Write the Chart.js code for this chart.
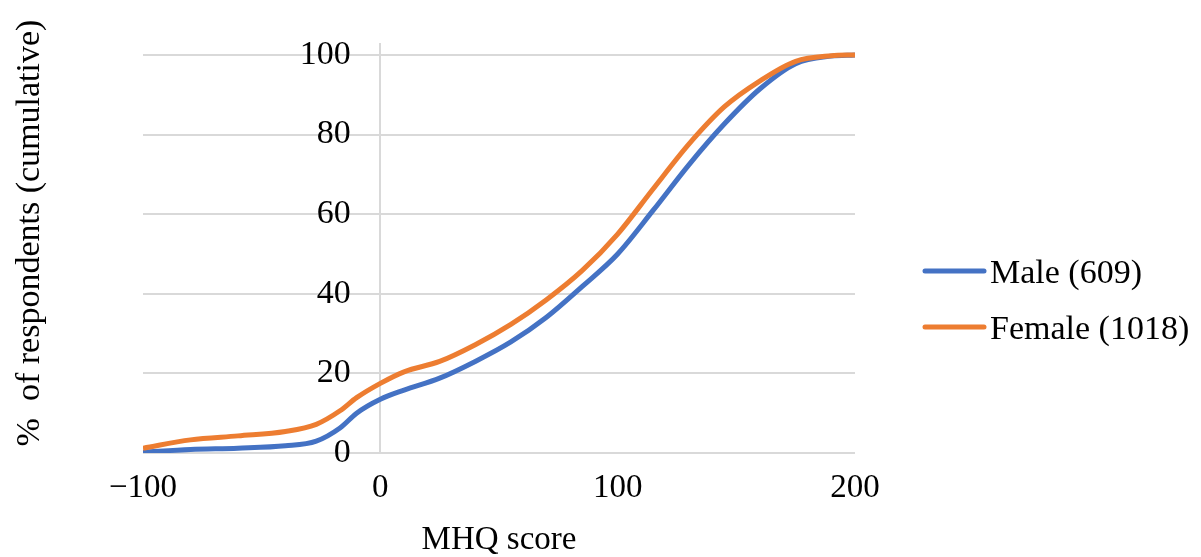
<!DOCTYPE html>
<html>
<head>
<meta charset="utf-8">
<script src="https://cdn.jsdelivr.net/npm/chart.js@4"></script>
<style>
    html, body { margin: 0; padding: 0; background: #fff; }
    #wrap { position: relative; width: 1201px; height: 557px; }
</style>
</head>
<body>
<div id="wrap"><canvas id="mhqChart" width="1201" height="557"></canvas></div>
<script>
// MHQ score (x) and cumulative % of respondents (y)
const mhqScores = [-100, -80, -60, -40, -27, -17, -10, 0, 10, 25, 40, 55, 70, 85, 100, 115, 130, 145, 160, 175, 190, 200];
const maleCum = [0.2, 0.9, 1.2, 1.8, 3.0, 6.3, 10, 13.5, 15.8, 18.8, 23, 27.9, 34.1, 41.8, 50, 61, 72.4, 82.7, 91.5, 97.8, 99.7, 100];
const femaleCum = [1.2, 3.3, 4.3, 5.4, 7.2, 10.6, 13.9, 17.5, 20.4, 23, 27.2, 32.3, 38.5, 45.8, 55, 66.4, 77.6, 87, 93.5, 98.4, 99.8, 100];

const seriesLabels = ["Male (609)", "Female (1018)"];
const xTicks = [-100, 0, 100, 200];
const yTicks = [0, 20, 40, 60, 80, 100];

const BLUE = "#4472C4";
const ORANGE = "#ED7D31";
const GRID = "#d9d9d9";
const SERIF = "'Liberation Serif', 'Times New Roman', serif";

function toPoints(values) {
    return mhqScores.map((x, i) => ({ x, y: values[i] }));
}

// legend + rotated y title, drawn on the canvas
const extrasPlugin = {
    id: "extras",
    afterDraw(chart) {
        const ctx = chart.ctx;
        ctx.save();

        // y axis title
        ctx.translate(39, 233);
        ctx.rotate(-Math.PI / 2);
        ctx.font = "34px " + SERIF;
        ctx.fillStyle = "#000";
        ctx.textAlign = "center";
        ctx.textBaseline = "alphabetic";
        ctx.fillText("%  of respondents (cumulative)", 0, 0);
        ctx.restore();

        // legend
        const items = chart.data.datasets;
        ctx.save();
        ctx.font = "34px " + SERIF;
        ctx.textAlign = "left";
        ctx.textBaseline = "middle";
        ctx.lineCap = "round";
        items.forEach((ds, i) => {
            const y = 271 + i * 56;
            ctx.strokeStyle = ds.borderColor;
            ctx.lineWidth = 5;
            ctx.beginPath();
            ctx.moveTo(925, y);
            ctx.lineTo(984, y);
            ctx.stroke();
            ctx.fillStyle = "#000";
            ctx.fillText(ds.label, 990, y + 3);
        });
        ctx.restore();
    }
};

const ctx = document.getElementById("mhqChart").getContext("2d");

new Chart(ctx, {
    type: "line",
    data: {
        datasets: [
            {
                label: seriesLabels[0],
                data: toPoints(maleCum),
                borderColor: BLUE,
                backgroundColor: BLUE,
                borderWidth: 5,
                pointRadius: 0,
                cubicInterpolationMode: "monotone",
                order: 1
            },
            {
                label: seriesLabels[1],
                data: toPoints(femaleCum),
                borderColor: ORANGE,
                backgroundColor: ORANGE,
                borderWidth: 5,
                pointRadius: 0,
                cubicInterpolationMode: "monotone",
                order: 0
            }
        ]
    },
    options: {
        responsive: false,
        animation: false,
        layout: {
            padding: { left: 143, right: 346, top: 43, bottom: 0 }
        },
        plugins: {
            legend: { display: false },
            tooltip: { enabled: false }
        },
        scales: {
            x: {
                type: "linear",
                min: -100,
                max: 200,
                afterBuildTicks: (scale) => {
                    scale.ticks = xTicks.map(v => ({ value: v }));
                },
                // only the zero line is shown, it acts as the vertical axis
                grid: {
                    display: true,
                    drawTicks: false,
                    lineWidth: 2,
                    color: (c) => (c.tick && c.tick.value === 0 ? GRID : "rgba(0,0,0,0)")
                },
                border: { display: false },
                ticks: {
                    padding: 19,
                    color: "#000",
                    font: { family: SERIF, size: 33, lineHeight: 1 },
                    maxRotation: 0,
                    callback: (v) => (v < 0 ? "\u2212" + Math.abs(v) : String(v))
                },
                title: {
                    display: true,
                    text: "MHQ score",
                    color: "#000",
                    font: { family: SERIF, size: 33, lineHeight: 1 },
                    padding: { top: 0, bottom: 0 }
                }
            },
            y: {
                position: { x: -12.5 },
                min: 0,
                max: 103,
                afterBuildTicks: (scale) => {
                    scale.ticks = yTicks.map(v => ({ value: v }));
                },
                grid: { color: GRID, lineWidth: 2, drawTicks: false },
                border: { display: false },
                ticks: {
                    padding: 0,
                    color: "#000",
                    font: { family: SERIF, size: 34 }
                }
            }
        }
    },
    plugins: [extrasPlugin]
});
</script>
</body>
</html>
